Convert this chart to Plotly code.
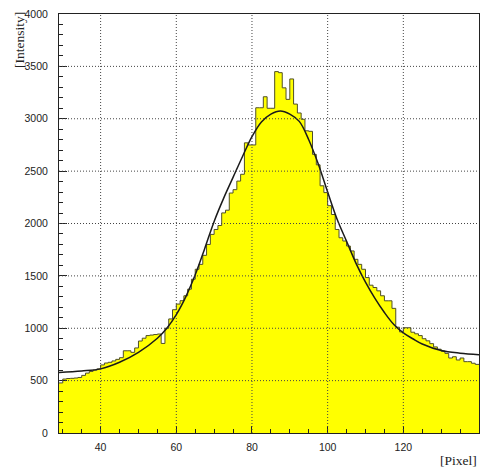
import plotly.graph_objects as go

# ---- data ----
bin_lo = list(range(29, 140))  # bin lower edges, bin width 1 pixel
counts = [
    478, 515, 520, 522, 525, 530, 550, 572, 588, 600,   # 29-38
    612, 650, 668, 675, 688, 703, 719, 785, 785, 770,   # 39-48
    812, 878, 905, 930, 935, 940, 945, 855, 1000, 1089, # 49-58
    1177, 1231, 1263, 1310, 1373, 1468, 1563, 1610, 1696, 1800,  # 59-68
    1896, 1943, 1981, 2101, 2127, 2291, 2323, 2405, 2470, 2770,  # 69-78
    2750, 2750, 3105, 3105, 3210, 3100, 3100, 3450, 3440, 3295,  # 79-88
    3185, 3380, 3140, 3055, 2995, 2885, 2880, 2660, 2560, 2360,  # 89-98
    2295, 2170, 2086, 1943, 1864, 1833, 1785, 1738, 1658, 1610,  # 99-108
    1563, 1484, 1411, 1389, 1357, 1310, 1262, 1262, 1190, 1010,  # 109-118
    965, 1005, 1005, 962, 947, 930, 900, 880, 853, 822,          # 119-128
    800, 781, 760, 716, 728, 697, 716, 681, 681, 666,            # 129-138
    655,                                                          # 139
]

fit_x = [29, 35, 40, 45, 50, 55, 57.5, 60, 62.5, 65, 67.5, 70, 72.5, 75, 77.5,
         80, 82.5, 85, 87.5, 90, 92.5, 95, 97.5, 100, 102.5, 105, 107.5, 110,
         112.5, 115, 117.5, 120, 122.5, 125, 130, 135, 140]
fit_y = [578, 592, 612, 675, 770, 905, 1000, 1130, 1300, 1510, 1760, 2020, 2240, 2440, 2640,
         2830, 2970, 3045, 3075, 3045, 2975, 2800, 2570, 2300, 2040, 1830, 1620, 1440,
         1285, 1150, 1035, 955, 900, 850, 788, 762, 748]

x_ticks = [40, 60, 80, 100, 120]
y_ticks = [0, 500, 1000, 1500, 2000, 2500, 3000, 3500, 4000]
x_range = [29, 140]
y_range = [0, 4000]

# ---- figure ----
edges = bin_lo + [bin_lo[-1] + 1]
step_y = counts + [counts[-1]]

fig = go.Figure()
fig.add_trace(go.Scatter(
    x=edges, y=step_y, mode="lines", line_shape="hv",
    fill="tozeroy", fillcolor="#ffff00",
    line=dict(color="#4f4f28", width=1), hoverinfo="skip", showlegend=False))
fig.add_trace(go.Scatter(
    x=fit_x, y=fit_y, mode="lines", line_shape="spline",
    line=dict(color="#1a1a1a", width=1.5), showlegend=False))

tickfont = dict(family="Liberation Sans, Arial, sans-serif", size=10.5, color="#222")
grid_line = dict(color="#444", width=1, dash="1px,2px")
shapes = []
for g in x_ticks:
    shapes.append(dict(type="line", xref="x", yref="paper", x0=g, x1=g, y0=0, y1=1,
                       line=grid_line, layer="above"))
for g in y_ticks[1:-1]:
    shapes.append(dict(type="line", xref="paper", yref="y", x0=0, x1=1, y0=g, y1=g,
                       line=grid_line, layer="above"))

fig.update_layout(
    width=480, height=467,
    margin=dict(l=59, r=1, t=14, b=34),
    paper_bgcolor="white", plot_bgcolor="white",
    shapes=shapes,
    xaxis=dict(range=x_range, tickvals=x_ticks, ticks="inside", ticklen=7, tickcolor="#222",
               showline=True, linecolor="#222", linewidth=1, mirror=True,
               showgrid=False, zeroline=False, tickfont=tickfont, ticklabelstandoff=4,
               minor=dict(dtick=5, ticks="inside", ticklen=4, tickcolor="#222", showgrid=False),
               layer="above traces"),
    yaxis=dict(range=y_range, tickvals=y_ticks, ticks="inside", ticklen=8, tickcolor="#222",
               showline=True, linecolor="#222", linewidth=1, mirror=True,
               showgrid=False, zeroline=False, tickfont=tickfont, ticklabelstandoff=8,
               minor=dict(dtick=100, ticks="inside", ticklen=4, tickcolor="#222", showgrid=False),
               layer="above traces"),
    annotations=[
        dict(text="[Intensity]", xref="paper", yref="paper", x=(20 - 59) / 420, y=(433 - 40) / 419,
             xanchor="center", yanchor="middle", textangle=-90, showarrow=False,
             font=dict(family="Liberation Serif, Times New Roman, serif", size=13.5, color="#222")),
        dict(text="[Pixel]", xref="paper", yref="paper", x=1.0, y=(433 - 460) / 419,
             xanchor="right", yanchor="middle", showarrow=False,
             font=dict(family="Liberation Serif, Times New Roman, serif", size=13.5, color="#222")),
    ],
)

fig.write_html(
    "out.html",
    config={"displayModeBar": False, "staticPlot": True},
    post_script="document.body.style.margin='0';"
                "document.documentElement.style.overflow='hidden';"
                "document.body.style.overflow='hidden';",
)
